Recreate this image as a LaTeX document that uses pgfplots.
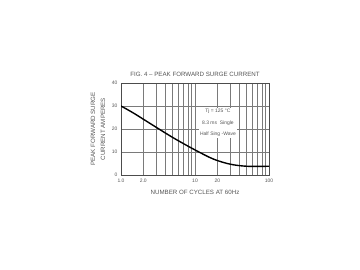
\documentclass[border=0pt]{standalone}
\usepackage{pgfplots}
\pgfplotsset{compat=1.18}
\usepackage{fontspec}
\setmainfont{Liberation Sans}
\definecolor{txt}{HTML}{555555}
\definecolor{gridc}{HTML}{7A7A7A}
\begin{document}
\begin{tikzpicture}[x=1bp,y=1bp]
\path (0,0) rectangle (360,270);
\begin{axis}[
  at={(121bp,95bp)}, anchor=south west,
  scale only axis, width=148bp, height=92bp,
  xmode=log, xmin=1, xmax=100, ymin=0, ymax=40,
  xtick={1,2,10,20,100}, xticklabels={1.0,2.0,10,20,100},
  minor xtick={3,4,5,6,7,8,9,30,40,50,60,70,80,90},
  ytick={0,10,20,30,40},
  grid=both,
  major grid style={gridc, line width=0.6pt},
  minor grid style={gridc, line width=0.6pt},
  axis line style={black!70, line width=0.6pt},
  tick style={draw=none},
  /pgf/number format/assume math mode=true,
  ticklabel style={font=\fontsize{5}{6}\selectfont, text=txt},
  xticklabel style={yshift=-1bp},
  log ticks with fixed point,
  title={FIG. 4 -- PEAK FORWARD SURGE CURRENT},
  title style={font=\fontsize{6.2}{7}\selectfont, text=txt, yshift=-3bp},
  xlabel={NUMBER OF CYCLES AT 60Hz},
  xlabel style={font=\fontsize{6.2}{7}\selectfont, text=txt},
  ylabel={PEAK FORWARD SURGE\\CURRENT AMPERES},
  ylabel style={font=\fontsize{6.2}{10}\selectfont, text=txt, align=center, yshift=0bp},
]
\addplot[black, line width=1.4pt, smooth] coordinates {
  (1,30) (1.48,26.9) (2.62,21.9) (5.13,16.1) (10,10.9) (17.8,6.9) (29.9,4.7) (50.1,3.8) (100,3.8)
};
\node[fill=white, inner sep=1pt, align=center, font=\fontsize{5}{11.5}\selectfont, text=txt] at (axis cs:20.4,22.6) {Tj = 125 °C\\8.3 ms\ \ Single\\Half Sing -Wave};
\end{axis}
\end{tikzpicture}
\end{document}
